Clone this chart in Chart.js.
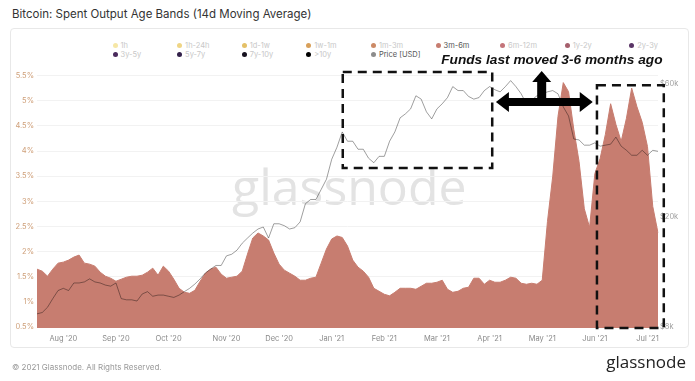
<!DOCTYPE html>
<html>
<head>
<meta charset="utf-8">
<script src="https://cdn.jsdelivr.net/npm/chart.js@4.4.1/dist/chart.umd.min.js"></script>
<style>
  body { margin: 0; background: #fff; font-family: Inter, "Noto Sans", sans-serif; }
  #wrap { position: relative; width: 695px; height: 381px; overflow: hidden; }
  #title { position: absolute; left: 12px; top: 7px; font-size: 11.5px; color: #333; }
  #card { position: absolute; left: 10px; top: 28px; width: 679px; height: 320px; border: 1px solid #e8e8e8; border-radius: 4px; box-sizing: border-box; }
  #mark { position: absolute; left: 232px; top: 161px; font-family: "Open Sans"; font-size: 50px; line-height: 1; color: #e3e3e3; }
  canvas { position: absolute; left: 0; top: 0; }
  .lg { position: absolute; font-size: 7.5px; line-height: 9px; white-space: nowrap; color: #c8c8c8; }
  .lg i { display: inline-block; width: 5px; height: 5px; border-radius: 50%; margin-right: 3px; vertical-align: 0px; }
  #copy { position: absolute; left: 12px; top: 362px; font-size: 8px; color: #999; }
  #logo { position: absolute; right: 9px; top: 350px; font-family: "Open Sans"; font-size: 17px; color: #222; }
</style>
</head>
<body>
<div id="wrap">
  <div id="title">Bitcoin: Spent Output Age Bands (14d Moving Average)</div>
  <div id="card"></div>
  <div id="mark">glassnode</div>
  <div id="legend"></div>
  <canvas id="chart" width="695" height="381"></canvas>
  <div id="copy">© 2021 Glassnode. All Rights Reserved.</div>
  <div id="logo">glassnode</div>
</div>
<script>
// one point every 3 days, starting 18 Jul 2020
const startDay = Date.UTC(2020, 6, 18);
const stepDays = 3;
const monthNames = ["Jan", "Feb", "Mar", "Apr", "May", "Jun", "Jul", "Aug", "Sep", "Oct", "Nov", "Dec"];

// 3m-6m spent output share, %
const spentPct = [
  1.65, 1.61, 1.51, 1.65, 1.77, 1.79, 1.83, 1.89, 1.93, 1.77,
  1.75, 1.71, 1.59, 1.51, 1.47, 1.41, 1.45, 1.49, 1.51, 1.51,
  1.53, 1.59, 1.67, 1.53, 1.71, 1.61, 1.45, 1.27, 1.19, 1.17,
  1.23, 1.41, 1.57, 1.65, 1.69, 1.55, 1.47, 1.49, 1.51, 1.61,
  1.95, 2.27, 2.37, 2.31, 2.23, 1.97, 1.75, 1.63, 1.57, 1.51,
  1.43, 1.43, 1.47, 1.49, 1.77, 2.05, 2.25, 2.31, 2.28, 2.11,
  1.83, 1.69, 1.61, 1.49, 1.27, 1.21, 1.15, 1.12, 1.19, 1.27,
  1.27, 1.27, 1.25, 1.31, 1.37, 1.37, 1.39, 1.43, 1.25, 1.19,
  1.21, 1.27, 1.29, 1.47, 1.47, 1.35, 1.43, 1.39, 1.39, 1.43,
  1.49, 1.47, 1.37, 1.35, 1.37, 1.35, 1.43, 2.60, 3.50, 4.69,
  5.36, 5.18, 4.43, 3.79, 2.85, 2.48, 3.55, 3.85, 4.33, 4.94,
  4.53, 4.19, 4.65, 5.25, 4.88, 4.57, 4.09, 2.90, 2.37
];

// BTC price, USD
const priceUsd = [
  8900, 9000, 9400, 10100, 10800, 11000, 10800, 11500, 11500, 11600,
  11900, 11600, 11500, 11300, 11200, 11500, 10100, 10000, 10000, 9900,
  10500, 10700, 10300, 10400, 10400, 10300, 10200, 10400, 10700, 11000,
  11400, 11900, 12500, 12900, 13300, 13300, 14400, 14600, 15100, 16000,
  16700, 17400, 18000, 18300, 16700, 18800, 18800, 18500, 18000, 18200,
  19100, 22200, 23000, 23000, 25000, 27200, 32100, 35500, 40300, 37300,
  37300, 34900, 34900, 32400, 31200, 32900, 32900, 37300, 40300, 45300,
  46800, 48800, 54400, 52900, 47600, 44900, 48800, 50900, 53600, 58700,
  56800, 56800, 54100, 52900, 53600, 56800, 58700, 57200, 56200, 58700,
  61700, 58700, 55300, 50900, 52500, 54400, 55300, 56200, 56800, 55300,
  49600, 46000, 38000, 37700, 36100, 36100, 36800, 35800, 36100, 36400,
  38600, 35800, 34600, 33200, 33200, 34600, 33200, 34600, 34300
];

const pctTicks = [0.5, 1, 1.5, 2, 2.5, 3, 3.5, 4, 4.5, 5, 5.5];
const priceTicks = [8000, 20000, 60000];

const bandNames = ["1h", "1h-24h", "1d-1w", "1w-1m", "1m-3m", "3m-6m", "6m-12m", "1y-2y", "2y-3y",
  "3y-5y", "5y-7y", "7y-10y", ">10y", "Price [USD]"];
const bandColors = ["#f6e7a6", "#efd585", "#e4c067", "#d8a05a", "#cc8a66", "#c77d70", "#c4757a", "#a55f6c", "#5a3566",
  "#4a2a5c", "#33214a", "#17121f", "#000000", "#8c8c8c"];
const shownBands = ["3m-6m", "Price [USD]"];

// hand-drawn annotations, in chart coordinates (point index, % value)
const noteBoxes = [[58.1, 86.5, 5.57, 3.66], [106.4, 119.1, 5.31, 0.48]];
const noteArrow = { x0: 87.2, x1: 105.6, y: 4.975, upX: 95.9, upY: 5.59 };
const noteText = { x: 76.8, y: 5.73, text: "Funds last moved 3-6 months ago" };

const labels = spentPct.map((v, i) => new Date(startDay + i * stepDays * 86400000).toISOString().slice(0, 10));

// legend
const legend = document.getElementById("legend");
bandNames.forEach((name, i) => {
  const row = i < 9 ? 0 : 1;
  const col = i % 9;
  const el = document.createElement("div");
  el.className = "lg";
  el.style.left = (112.5 + col * 64.6) + "px";
  el.style.top = (40.5 + row * 9) + "px";
  if (shownBands.includes(name)) el.style.color = "#555";
  el.innerHTML = `<i style="background:${bandColors[i]}"></i>${name}`;
  legend.appendChild(el);
});

const notes = {
  id: "notes",
  afterDraw(chart) {
    const ctx = chart.ctx;
    const xs = chart.scales.x;
    const ys = chart.scales.yPct;
    ctx.save();
    ctx.strokeStyle = "#111";
    ctx.lineWidth = 2.5;
    ctx.setLineDash([9, 6]);
    noteBoxes.forEach(b => {
      const x0 = xs.getPixelForValue(b[0]), x1 = xs.getPixelForValue(b[1]);
      const y0 = ys.getPixelForValue(b[2]), y1 = ys.getPixelForValue(b[3]);
      ctx.strokeRect(x0, y0, x1 - x0, y1 - y0);
    });
    ctx.setLineDash([]);

    const L = xs.getPixelForValue(noteArrow.x0);
    const R = xs.getPixelForValue(noteArrow.x1);
    const cy = ys.getPixelForValue(noteArrow.y);
    const ux = xs.getPixelForValue(noteArrow.upX);
    const T = ys.getPixelForValue(noteArrow.upY);
    ctx.fillStyle = "#000";
    ctx.beginPath();
    ctx.moveTo(L, cy);
    ctx.lineTo(L + 13, cy - 10);
    ctx.lineTo(L + 13, cy - 4);
    ctx.lineTo(ux - 4.5, cy - 4);
    ctx.lineTo(ux - 4.5, T + 11);
    ctx.lineTo(ux - 9.5, T + 11);
    ctx.lineTo(ux, T);
    ctx.lineTo(ux + 9.5, T + 11);
    ctx.lineTo(ux + 4.5, T + 11);
    ctx.lineTo(ux + 4.5, cy - 4);
    ctx.lineTo(R - 13, cy - 4);
    ctx.lineTo(R - 13, cy - 10);
    ctx.lineTo(R, cy);
    ctx.lineTo(R - 13, cy + 10);
    ctx.lineTo(R - 13, cy + 4);
    ctx.lineTo(L + 13, cy + 4);
    ctx.lineTo(L + 13, cy + 10);
    ctx.closePath();
    ctx.fill();

    ctx.font = 'italic bold 13.7px "Liberation Sans", Arial, sans-serif';
    ctx.textBaseline = "alphabetic";
    ctx.fillStyle = "#111";
    ctx.fillText(noteText.text, xs.getPixelForValue(noteText.x), ys.getPixelForValue(noteText.y));
    ctx.restore();
  }
};

Chart.defaults.font.family = "Inter, 'Noto Sans', sans-serif";

new Chart(document.getElementById("chart"), {
  type: "line",
  data: {
    labels: labels,
    datasets: [
      {
        label: "Price [USD]",
        data: priceUsd,
        yAxisID: "yPrice",
        borderColor: "rgba(0,0,0,0.38)",
        borderWidth: 1,
        pointRadius: 0,
        fill: false,
        order: 0,
      },
      {
        label: "3m-6m",
        data: spentPct,
        yAxisID: "yPct",
        borderColor: "#c77d70",
        backgroundColor: "#c77d70",
        borderWidth: 1,
        pointRadius: 0,
        fill: "start",
        order: 1,
      },
    ],
  },
  options: {
    responsive: false,
    animation: false,
    layout: { padding: { top: 62, bottom: 33, left: 0, right: 0 } },
    plugins: { legend: { display: false }, tooltip: { enabled: false } },
    scales: {
      x: {
        type: "category",
        offset: false,
        grid: { display: false, drawTicks: false },
        border: { display: false },
        ticks: {
          autoSkip: false,
          maxRotation: 0,
          padding: 6,
          color: "#8a8a8a",
          font: { size: 7.5 },
          callback: function (value, index) {
            if (index === 0) return "";
            const d = new Date(labels[index]);
            const p = new Date(labels[index - 1]);
            if (d.getUTCMonth() === p.getUTCMonth()) return "";
            return monthNames[d.getUTCMonth()] + " '" + String(d.getUTCFullYear()).slice(2);
          },
        },
        afterFit: (s) => { s.height = 20; },
      },
      yPct: {
        position: "left",
        min: 0.48,
        max: 5.77,
        afterBuildTicks: (s) => { s.ticks = pctTicks.map((v) => ({ value: v })); },
        ticks: { color: "#cfa07a", font: { size: 7.5 }, padding: 3, callback: (v) => v + "%" },
        grid: { color: "#f2f2f2", drawTicks: false },
        border: { display: false },
        afterFit: (s) => { s.width = 37; },
      },
      yPrice: {
        type: "logarithmic",
        position: "right",
        min: 7914,
        max: 72000,
        afterBuildTicks: (s) => { s.ticks = priceTicks.map((v) => ({ value: v })); },
        ticks: { color: "#a0a0a0", font: { size: 7.5 }, padding: 2, callback: (v) => "$" + v / 1000 + "k" },
        grid: { display: false, drawTicks: false },
        border: { display: false },
        afterFit: (s) => { s.width = 37; },
      },
    },
  },
  plugins: [notes],
});
</script>
</body>
</html>
